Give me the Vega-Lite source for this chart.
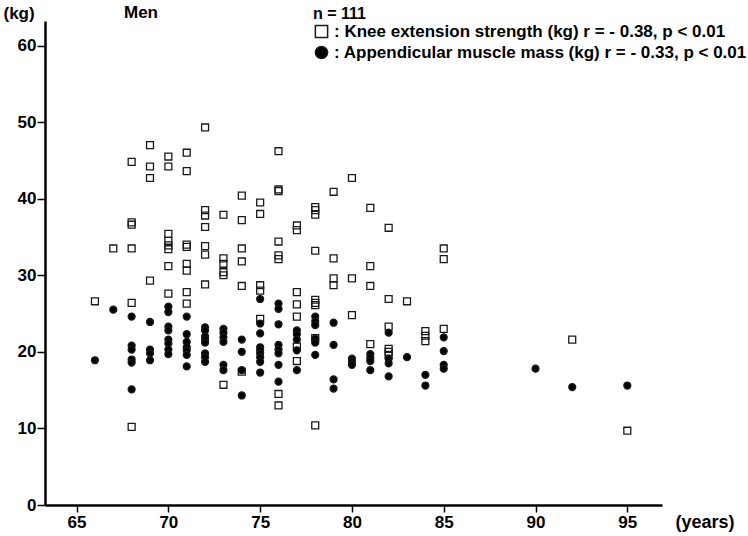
{
  "$schema": "https://vega.github.io/schema/vega-lite/v6.json",
  "width": 617,
  "height": 484,
  "autosize": {"type": "none"},
  "padding": {"left": 45, "top": 21, "right": 86, "bottom": 31},
  "background": "white",
  "config": {
    "font": "Liberation Sans, Arial",
    "view": {"stroke": null}
  },
  "title": {"text": "Men", "anchor": "start", "frame": "group", "dx": 79, "dy": 18, "offset": 0, "fontSize": 17, "fontWeight": "bold", "color": "black"},
  "data": {"values": [
    {"age":66,"value":26.6,"measure":"knee"},
    {"age":67,"value":33.5,"measure":"knee"},
    {"age":68,"value":44.8,"measure":"knee"},{"age":68,"value":36.9,"measure":"knee"},{"age":68,"value":36.6,"measure":"knee"},{"age":68,"value":33.5,"measure":"knee"},{"age":68,"value":26.4,"measure":"knee"},{"age":68,"value":10.2,"measure":"knee"},
    {"age":69,"value":47.0,"measure":"knee"},{"age":69,"value":44.2,"measure":"knee"},{"age":69,"value":42.7,"measure":"knee"},{"age":69,"value":29.3,"measure":"knee"},
    {"age":70,"value":45.5,"measure":"knee"},{"age":70,"value":44.2,"measure":"knee"},{"age":70,"value":35.4,"measure":"knee"},{"age":70,"value":34.5,"measure":"knee"},{"age":70,"value":33.9,"measure":"knee"},{"age":70,"value":33.4,"measure":"knee"},{"age":70,"value":31.2,"measure":"knee"},{"age":70,"value":27.6,"measure":"knee"},
    {"age":71,"value":46.0,"measure":"knee"},{"age":71,"value":43.6,"measure":"knee"},{"age":71,"value":34.0,"measure":"knee"},{"age":71,"value":33.7,"measure":"knee"},{"age":71,"value":31.5,"measure":"knee"},{"age":71,"value":30.6,"measure":"knee"},{"age":71,"value":27.8,"measure":"knee"},{"age":71,"value":26.3,"measure":"knee"},
    {"age":72,"value":49.3,"measure":"knee"},{"age":72,"value":38.5,"measure":"knee"},{"age":72,"value":37.8,"measure":"knee"},{"age":72,"value":36.3,"measure":"knee"},{"age":72,"value":33.8,"measure":"knee"},{"age":72,"value":32.7,"measure":"knee"},{"age":72,"value":28.8,"measure":"knee"},
    {"age":73,"value":37.9,"measure":"knee"},{"age":73,"value":32.2,"measure":"knee"},{"age":73,"value":31.5,"measure":"knee"},{"age":73,"value":30.4,"measure":"knee"},{"age":73,"value":30.0,"measure":"knee"},{"age":73,"value":15.7,"measure":"knee"},
    {"age":74,"value":40.4,"measure":"knee"},{"age":74,"value":37.2,"measure":"knee"},{"age":74,"value":33.5,"measure":"knee"},{"age":74,"value":31.8,"measure":"knee"},{"age":74,"value":28.6,"measure":"knee"},{"age":74,"value":17.4,"measure":"knee"},
    {"age":75,"value":39.5,"measure":"knee"},{"age":75,"value":38.0,"measure":"knee"},{"age":75,"value":28.7,"measure":"knee"},{"age":75,"value":28.0,"measure":"knee"},{"age":75,"value":24.3,"measure":"knee"},
    {"age":76,"value":46.2,"measure":"knee"},{"age":76,"value":41.2,"measure":"knee"},{"age":76,"value":41.0,"measure":"knee"},{"age":76,"value":34.4,"measure":"knee"},{"age":76,"value":32.6,"measure":"knee"},{"age":76,"value":32.1,"measure":"knee"},{"age":76,"value":14.5,"measure":"knee"},{"age":76,"value":13.0,"measure":"knee"},
    {"age":77,"value":36.5,"measure":"knee"},{"age":77,"value":35.9,"measure":"knee"},{"age":77,"value":27.8,"measure":"knee"},{"age":77,"value":26.2,"measure":"knee"},{"age":77,"value":24.6,"measure":"knee"},{"age":77,"value":20.7,"measure":"knee"},{"age":77,"value":18.8,"measure":"knee"},
    {"age":78,"value":38.9,"measure":"knee"},{"age":78,"value":38.5,"measure":"knee"},{"age":78,"value":37.9,"measure":"knee"},{"age":78,"value":33.2,"measure":"knee"},{"age":78,"value":26.8,"measure":"knee"},{"age":78,"value":26.4,"measure":"knee"},{"age":78,"value":26.1,"measure":"knee"},{"age":78,"value":21.8,"measure":"knee"},{"age":78,"value":10.4,"measure":"knee"},
    {"age":79,"value":40.9,"measure":"knee"},{"age":79,"value":32.2,"measure":"knee"},{"age":79,"value":29.6,"measure":"knee"},{"age":79,"value":28.7,"measure":"knee"},
    {"age":80,"value":42.7,"measure":"knee"},{"age":80,"value":29.6,"measure":"knee"},{"age":80,"value":24.8,"measure":"knee"},
    {"age":81,"value":38.8,"measure":"knee"},{"age":81,"value":31.2,"measure":"knee"},{"age":81,"value":28.6,"measure":"knee"},{"age":81,"value":21.0,"measure":"knee"},
    {"age":82,"value":36.2,"measure":"knee"},{"age":82,"value":26.9,"measure":"knee"},{"age":82,"value":23.3,"measure":"knee"},{"age":82,"value":20.4,"measure":"knee"},{"age":82,"value":20.0,"measure":"knee"},{"age":82,"value":19.6,"measure":"knee"},
    {"age":83,"value":26.6,"measure":"knee"},
    {"age":84,"value":22.7,"measure":"knee"},{"age":84,"value":22.1,"measure":"knee"},{"age":84,"value":21.4,"measure":"knee"},
    {"age":85,"value":33.5,"measure":"knee"},{"age":85,"value":32.1,"measure":"knee"},{"age":85,"value":23.0,"measure":"knee"},
    {"age":92,"value":21.6,"measure":"knee"},
    {"age":95,"value":9.7,"measure":"knee"},
    {"age":66,"value":18.9,"measure":"amm"},
    {"age":67,"value":25.5,"measure":"amm"},
    {"age":68,"value":24.6,"measure":"amm"},{"age":68,"value":20.8,"measure":"amm"},{"age":68,"value":20.3,"measure":"amm"},{"age":68,"value":19.0,"measure":"amm"},{"age":68,"value":18.6,"measure":"amm"},{"age":68,"value":15.1,"measure":"amm"},
    {"age":69,"value":23.9,"measure":"amm"},{"age":69,"value":20.3,"measure":"amm"},{"age":69,"value":19.8,"measure":"amm"},{"age":69,"value":18.9,"measure":"amm"},
    {"age":70,"value":25.9,"measure":"amm"},{"age":70,"value":25.2,"measure":"amm"},{"age":70,"value":23.3,"measure":"amm"},{"age":70,"value":22.8,"measure":"amm"},{"age":70,"value":21.6,"measure":"amm"},{"age":70,"value":21.1,"measure":"amm"},{"age":70,"value":20.3,"measure":"amm"},{"age":70,"value":19.7,"measure":"amm"},
    {"age":71,"value":24.6,"measure":"amm"},{"age":71,"value":22.3,"measure":"amm"},{"age":71,"value":21.3,"measure":"amm"},{"age":71,"value":20.6,"measure":"amm"},{"age":71,"value":20.2,"measure":"amm"},{"age":71,"value":19.6,"measure":"amm"},{"age":71,"value":18.1,"measure":"amm"},
    {"age":72,"value":23.2,"measure":"amm"},{"age":72,"value":22.8,"measure":"amm"},{"age":72,"value":22.0,"measure":"amm"},{"age":72,"value":21.6,"measure":"amm"},{"age":72,"value":21.2,"measure":"amm"},{"age":72,"value":19.8,"measure":"amm"},{"age":72,"value":19.3,"measure":"amm"},{"age":72,"value":18.7,"measure":"amm"},
    {"age":73,"value":23.0,"measure":"amm"},{"age":73,"value":22.5,"measure":"amm"},{"age":73,"value":21.9,"measure":"amm"},{"age":73,"value":21.3,"measure":"amm"},{"age":73,"value":18.3,"measure":"amm"},{"age":73,"value":17.6,"measure":"amm"},
    {"age":74,"value":21.6,"measure":"amm"},{"age":74,"value":20.0,"measure":"amm"},{"age":74,"value":17.6,"measure":"amm"},{"age":74,"value":14.3,"measure":"amm"},
    {"age":75,"value":26.9,"measure":"amm"},{"age":75,"value":23.7,"measure":"amm"},{"age":75,"value":22.4,"measure":"amm"},{"age":75,"value":20.6,"measure":"amm"},{"age":75,"value":20.2,"measure":"amm"},{"age":75,"value":19.8,"measure":"amm"},{"age":75,"value":19.3,"measure":"amm"},{"age":75,"value":18.7,"measure":"amm"},{"age":75,"value":17.3,"measure":"amm"},
    {"age":76,"value":26.3,"measure":"amm"},{"age":76,"value":25.6,"measure":"amm"},{"age":76,"value":23.6,"measure":"amm"},{"age":76,"value":20.9,"measure":"amm"},{"age":76,"value":20.3,"measure":"amm"},{"age":76,"value":19.8,"measure":"amm"},{"age":76,"value":18.3,"measure":"amm"},{"age":76,"value":16.1,"measure":"amm"},
    {"age":77,"value":22.8,"measure":"amm"},{"age":77,"value":22.3,"measure":"amm"},{"age":77,"value":21.6,"measure":"amm"},{"age":77,"value":20.2,"measure":"amm"},{"age":77,"value":17.6,"measure":"amm"},
    {"age":78,"value":24.6,"measure":"amm"},{"age":78,"value":24.0,"measure":"amm"},{"age":78,"value":23.5,"measure":"amm"},{"age":78,"value":21.7,"measure":"amm"},{"age":78,"value":21.2,"measure":"amm"},{"age":78,"value":19.6,"measure":"amm"},
    {"age":79,"value":23.8,"measure":"amm"},{"age":79,"value":20.9,"measure":"amm"},{"age":79,"value":16.4,"measure":"amm"},{"age":79,"value":15.2,"measure":"amm"},
    {"age":80,"value":19.1,"measure":"amm"},{"age":80,"value":18.7,"measure":"amm"},{"age":80,"value":18.3,"measure":"amm"},
    {"age":81,"value":19.7,"measure":"amm"},{"age":81,"value":19.2,"measure":"amm"},{"age":81,"value":18.8,"measure":"amm"},{"age":81,"value":17.6,"measure":"amm"},
    {"age":82,"value":22.5,"measure":"amm"},{"age":82,"value":19.1,"measure":"amm"},{"age":82,"value":18.5,"measure":"amm"},{"age":82,"value":16.8,"measure":"amm"},
    {"age":83,"value":19.3,"measure":"amm"},
    {"age":84,"value":17.0,"measure":"amm"},{"age":84,"value":15.6,"measure":"amm"},
    {"age":85,"value":21.9,"measure":"amm"},{"age":85,"value":20.1,"measure":"amm"},{"age":85,"value":18.3,"measure":"amm"},{"age":85,"value":17.8,"measure":"amm"},
    {"age":90,"value":17.8,"measure":"amm"},
    {"age":92,"value":15.4,"measure":"amm"},
    {"age":95,"value":15.6,"measure":"amm"}
  ]},
  "mark": {"type": "point", "stroke": "#1a1a1a", "strokeWidth": 1.3, "opacity": 1, "size": 48},
  "encoding": {
    "x": {
      "field": "age", "type": "quantitative",
      "scale": {"domain": [63.28, 96.89], "nice": false, "zero": false},
      "axis": {
        "values": [65, 70, 75, 80, 85, 90, 95],
        "grid": false, "domainColor": "black", "domainWidth": 2.5,
        "tickColor": "black", "tickWidth": 1.5, "tickSize": 7,
        "labelFontSize": 17, "labelFontWeight": "bold", "labelColor": "black", "labelPadding": 2,
        "title": "(years)", "titleFontSize": 18, "titleFontWeight": "bold", "titleColor": "black",
        "titleAnchor": "start", "titleAlign": "left", "titleBaseline": "alphabetic", "titleX": 630, "titleY": 22
      }
    },
    "y": {
      "field": "value", "type": "quantitative",
      "scale": {"domain": [0, 63.2], "nice": false},
      "axis": {
        "values": [0, 10, 20, 30, 40, 50, 60],
        "grid": false, "domainColor": "black", "domainWidth": 2.5,
        "tickColor": "black", "tickWidth": 1.5, "tickSize": 8,
        "labelFontSize": 17, "labelFontWeight": "bold", "labelColor": "black", "labelPadding": 1,
        "title": "(kg)", "titleAngle": 0, "titleFontSize": 17, "titleFontWeight": "bold", "titleColor": "black",
        "titleAlign": "left", "titleBaseline": "alphabetic", "titleX": -42, "titleY": -3
      }
    },
    "shape": {
      "field": "measure", "type": "nominal",
      "scale": {"domain": ["knee", "amm"], "range": ["square", "circle"]},
      "legend": {
        "title": "n = 111", "orient": "none", "legendX": 268, "legendY": -15,
        "titleFontSize": 16, "titleFontWeight": "bold", "titleColor": "black", "titlePadding": 1,
        "labelFontSize": 17, "labelFontWeight": "bold", "labelColor": "black", "labelOffset": 4, "labelLimit": 0,
        "symbolSize": 150, "rowPadding": 2,
        "encode": {"symbols": {"update": {"stroke": {"value": "black"}, "strokeWidth": {"value": 1.5}}}},
        "labelExpr": "datum.value === 'knee' ? ': Knee extension strength (kg) r = - 0.38, p < 0.01' : ': Appendicular muscle mass (kg) r = - 0.33, p < 0.01'"
      }
    },
    "fill": {
      "field": "measure", "type": "nominal",
      "scale": {"domain": ["knee", "amm"], "range": ["transparent", "black"]},
      "legend": {
        "title": "n = 111", "orient": "none", "legendX": 268, "legendY": -15,
        "titleFontSize": 16, "titleFontWeight": "bold", "titleColor": "black", "titlePadding": 1,
        "labelFontSize": 17, "labelFontWeight": "bold", "labelColor": "black", "labelOffset": 4, "labelLimit": 0,
        "symbolSize": 150, "rowPadding": 2,
        "encode": {"symbols": {"update": {"stroke": {"value": "black"}, "strokeWidth": {"value": 1.5}}}},
        "labelExpr": "datum.value === 'knee' ? ': Knee extension strength (kg) r = - 0.38, p < 0.01' : ': Appendicular muscle mass (kg) r = - 0.33, p < 0.01'"
      }
    }
  }
}
